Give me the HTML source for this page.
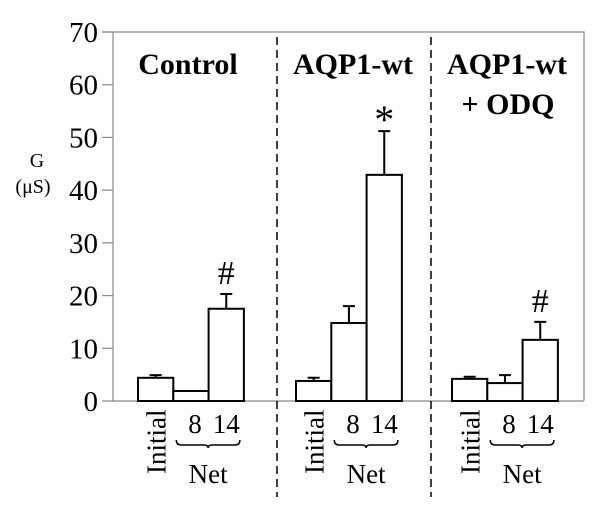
<!DOCTYPE html>
<html><head><meta charset="utf-8"><style>
body{margin:0;background:#fff;}
svg{display:block;}
svg text{font-family:"Liberation Serif","Times New Roman","DejaVu Serif",serif;}
</style></head><body>
<svg id="chart" width="600" height="505" font-family="Liberation Serif, Times New Roman, serif" xmlns="http://www.w3.org/2000/svg"></svg>
<script>
const groups = ["Control","AQP1-wt","AQP1-wt + ODQ"];
const categories = ["Initial","8","14"];
const values = [[4.4,1.9,17.5],[3.8,14.8,42.9],[4.2,3.4,11.6]];
const errors = [[0.5,0,2.8],[0.6,3.2,8.3],[0.4,1.5,3.4]];
const marks = [["","","#"],["","","*"],["","","#"]];
const yTicks = [0,10,20,30,40,50,60,70];

const NS="http://www.w3.org/2000/svg";
const svg=document.getElementById('chart');
const y0=401, yTop=32, yMax=70;
const y=v=>y0-(v/yMax)*(y0-yTop);
const groupStart=[138,296,452], barW=35.3;
const x=(g,i)=>groupStart[g]+i*barW;
function el(t,a,txt){const e=document.createElementNS(NS,t);for(const k in a)e.setAttribute(k,a[k]);if(txt!==undefined)e.textContent=txt;svg.appendChild(e);return e;}

let e=el('path',{d:`M102 ${yTop}H584V${y0}M113 ${yTop}V${y0}H584`,fill:'none',stroke:'#888','stroke-width':1.2});

yTicks.forEach(t=>{
  let l=el('line',{x1:102,x2:113,y1:y(t),y2:y(t),stroke:'#888','stroke-width':1.2});
  
  let tx=el('text',{x:98,y:y(t)+10,'text-anchor':'end','font-size':29},String(t));
  
});
e=el('text',{x:37,y:167,'text-anchor':'middle','font-size':20},'G');

e=el('text',{x:33,y:193,'text-anchor':'middle','font-size':20},'(μS)');


[277,431].forEach(dx=>{
  let d=el('line',{x1:dx,x2:dx,y1:37,y2:497,stroke:'#000','stroke-width':1.5,'stroke-dasharray':'8,5'});
  
});

e=el('text',{x:188,y:74,'text-anchor':'middle','font-size':30,'font-weight':'bold'},'Control');

e=el('text',{x:353,y:74,'text-anchor':'middle','font-size':30,'font-weight':'bold'},'AQP1-wt');

e=el('text',{x:507,y:74,'text-anchor':'middle','font-size':30,'font-weight':'bold'},'AQP1-wt');

e=el('text',{x:508,y:114,'text-anchor':'middle','font-size':30,'font-weight':'bold'},'+ ODQ');


groups.forEach((g,gi)=>{
  categories.forEach((c,i)=>{
    const v=values[gi][i], er=errors[gi][i], bx=x(gi,i);
    if(er>0){
      let l=el('path',{d:`M${bx+barW/2} ${y(v)}V${y(v+er)}M${bx+barW/2-6} ${y(v+er)}H${bx+barW/2+6}`,stroke:'#000','stroke-width':2,fill:'none'});
      
    }
    let r=el('rect',{x:bx,y:y(v),width:barW,height:y0-y(v),fill:'#fff',stroke:'#000','stroke-width':2});
    
    if(marks[gi][i]){
      const star=marks[gi][i]==='*';
      let m=el('text',{x:bx+barW/2,y:y(v+er)-(star?-2:10),'text-anchor':'middle','font-size':star?40:34},marks[gi][i]);
      
    }
  });
  const gx=groupStart[gi];
  let t=el('text',{transform:`translate(${gx+barW/2+10},474) rotate(-90)`,'font-size':27},'Initial');
  
  t=el('text',{x:gx+barW*1.5+4,y:433,'text-anchor':'middle','font-size':27},'8');
  
  t=el('text',{x:gx+barW*2.5,y:433,'text-anchor':'middle','font-size':27},'14');
  
  const b1=gx+barW+3,b2=gx+barW*3-4,bm=(b1+b2)/2;
  t=el('path',{d:`M${b1} 440Q${b1} 445 ${b1+5} 445H${bm-4}Q${bm} 445 ${bm} 448Q${bm} 445 ${bm+4} 445H${b2-5}Q${b2} 445 ${b2} 440`,fill:'none',stroke:'#000','stroke-width':1.5});
  
  t=el('text',{x:bm,y:483,'text-anchor':'middle','font-size':27},'Net');
  
});
</script>
</body></html>
